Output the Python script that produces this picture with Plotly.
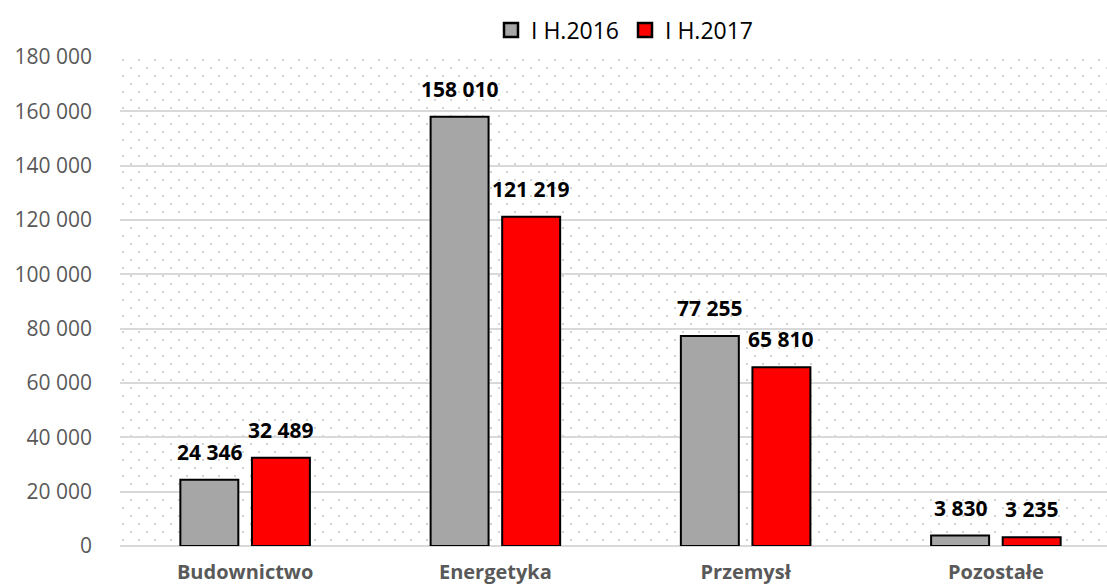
import base64
import plotly.graph_objects as go

categories = ["Budownictwo", "Energetyka", "Przemysł", "Pozostałe"]
series_2016 = [24346, 158010, 77255, 3830]
series_2017 = [32489, 121219, 65810, 3235]
series_names = ["I H.2016", "I H.2017"]
y_ticks = [0, 20000, 40000, 60000, 80000, 100000, 120000, 140000, 160000, 180000]

def fmt(v):
    return f"{v:,}".replace(",", " ")

W, H = 1107, 587
ML, MR, MT, MB = 120, 0, 57, 41
PW, PH = W - ML - MR, H - MT - MB

# light dotted texture for the plot area background
svg = (
    f"<svg xmlns='http://www.w3.org/2000/svg' width='{PW}' height='{PH}'>"
    "<defs><pattern id='p' width='16' height='16' patternUnits='userSpaceOnUse'>"
    "<rect x='2' y='2' width='2' height='2' fill='#d4d4d4'/>"
    "<rect x='10' y='10' width='2' height='2' fill='#d4d4d4'/>"
    "</pattern></defs><rect width='100%' height='100%' fill='url(#p)'/></svg>"
)
bg_src = "data:image/svg+xml;base64," + base64.b64encode(svg.encode()).decode()

fig = go.Figure()
series = [(series_names[0], series_2016, "#a6a6a6", -35.5),
          (series_names[1], series_2017, "#ff0000", 35.5)]
for name, vals, color, _ in series:
    fig.add_trace(go.Bar(
        x=categories, y=vals, name=name, showlegend=False,
        marker=dict(color=color, line=dict(color="#000000", width=2)),
    ))
# legend entries with larger square swatches
for name, vals, color, _ in series:
    fig.add_trace(go.Scatter(
        x=[None], y=[None], mode="markers", name=name,
        marker=dict(symbol="square", size=14, color=color,
                    line=dict(color="#000000", width=2.5)),
    ))

# value labels placed above bars, with a larger gap than Plotly's default outside text
for name, vals, color, shift in series:
    for c, v in zip(categories, vals):
        fig.add_annotation(
            x=c, y=v, xref="x", yref="y", text=fmt(v), showarrow=False,
            xshift=shift, yshift=12, yanchor="bottom", xanchor="center",
            font=dict(family="Open Sans", size=21, color="#000000", weight="bold"),
        )

fig.add_layout_image(
    source=bg_src, xref="paper", yref="paper", x=0, y=1, sizex=1, sizey=1,
    xanchor="left", yanchor="top", sizing="stretch", layer="below", opacity=1,
)

fig.update_layout(
    width=W, height=H,
    margin=dict(l=ML, r=MR, t=MT, b=MB, autoexpand=False),
    paper_bgcolor="#ffffff", plot_bgcolor="#ffffff",
    barmode="group", bargap=0.428, bargroupgap=0.19,
    font=dict(family="Open Sans", color="#595959", size=16),
    showlegend=True,
    legend=dict(orientation="h", xref="container", yref="container",
                x=491 / W, xanchor="left", y=1 - 30 / H, yanchor="middle",
                font=dict(size=23, color="#000000"), itemwidth=30,
                itemsizing="trace",
                entrywidth=89, entrywidthmode="pixels",
                traceorder="normal", bgcolor="rgba(0,0,0,0)"),
    xaxis=dict(range=[-0.5, 3.444], showgrid=False, ticks="", automargin=False,
               tickfont=dict(size=20, color="#595959", weight="bold"),
               ticklabelstandoff=12, showline=False),
    yaxis=dict(range=[0, 180000], tickvals=y_ticks, automargin=False,
               ticktext=[fmt(v) for v in y_ticks],
               showgrid=True, gridcolor="#d9d9d9", gridwidth=2,
               zeroline=True, zerolinecolor="#d9d9d9", zerolinewidth=2,
               tickfont=dict(size=21, color="#595959"), ticklabelstandoff=27),
)

fig.write_html("out.html", config={"displayModeBar": False},
               post_script="document.body.style.margin='0';")
